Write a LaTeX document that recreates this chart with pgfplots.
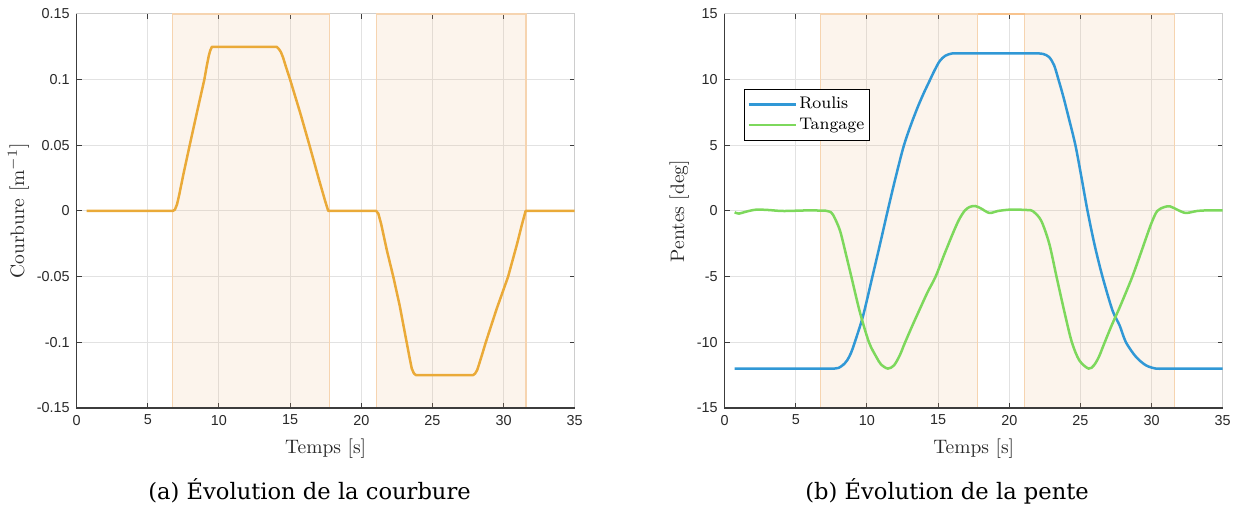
\documentclass[border=0pt]{standalone}
\usepackage{fontspec}
\usepackage{pgfplots}
\pgfplotsset{compat=1.18}
\newfontfamily\ticksf{Liberation Sans}
\newfontfamily\capfont{DejaVu Serif}
\definecolor{cOr}{RGB}{234,170,56}
\definecolor{cBl}{RGB}{48,152,214}
\definecolor{cGr}{RGB}{125,216,92}
\definecolor{rectfill}{RGB}{236,180,130}
\definecolor{rectedge}{RGB}{246,212,176}
\definecolor{axdark}{RGB}{60,60,60}
\definecolor{axlight}{RGB}{205,205,205}
\definecolor{gridc}{RGB}{226,226,226}
\definecolor{txt}{RGB}{40,40,40}
\pgfplotsset{
  mystyle/.style={
    scale only axis, width=249pt, height=197pt,
    xmin=0, xmax=35, xtick={0,5,...,35},
    grid=major, major grid style={gridc, line width=0.5pt},
    axis line style={axlight, line width=0.5pt},
    tick style={axdark, line width=0.5pt},
    major tick length=2.5pt, tick align=inside,
    ticklabel style={font=\ticksf\fontsize{7.2}{8.6}\selectfont, text=txt},
    label style={font=\fontsize{9.75}{11}\selectfont, text=txt},
    ylabel shift=-3pt,
    /pgf/number format/assume math mode=true,
    clip=false,
    xlabel={Temps [s]},
  },
  rectstyle/.style={fill=rectfill, fill opacity=0.15, draw=rectedge, line width=0.6pt, forget plot},
}
\begin{document}
\begin{tikzpicture}
\useasboundingbox (0,0) rectangle (618.5pt,253pt);
% ---------- left panel ----------
\begin{axis}[mystyle, at={(38.35pt,49pt)}, anchor=south west,
  ymin=-0.15, ymax=0.15,
  ytick={-0.15,-0.1,-0.05,0,0.05,0.1,0.15},
  yticklabels={-0.15,-0.1,-0.05,0,0.05,0.1,0.15},
  ylabel={Courbure [m$^{-1}$]}]
\addplot[rectstyle] coordinates {(6.75,-0.15) (6.75,0.15) (17.74,0.15) (17.74,-0.15) (6.75,-0.15)};
\addplot[rectstyle] coordinates {(21.06,-0.15) (21.06,0.15) (31.58,0.15) (31.58,-0.15) (21.06,-0.15)};
\addplot[cOr, line width=1.25pt, line join=round] coordinates {
(0.7,0) (6.75,0) (6.9,0.001) (7.05,0.005) (7.2,0.012) (7.5,0.028) (7.94,0.05) (8.45,0.075) (8.97,0.1) (9.15,0.111) (9.28,0.118) (9.38,0.122) (9.5,0.125)
(14.05,0.125) (14.2,0.1235) (14.35,0.121) (14.5,0.117) (14.7,0.11) (15.0,0.1) (15.7,0.075) (16.36,0.05) (17.0,0.025) (17.45,0.008) (17.68,0)
(21.05,0) (21.2,-0.002) (21.4,-0.01) (21.8,-0.03) (22.25,-0.05) (22.7,-0.072) (23.19,-0.1) (23.4,-0.112) (23.55,-0.12) (23.7,-0.1237) (23.85,-0.125)
(27.85,-0.125) (28.0,-0.1238) (28.15,-0.121) (28.3,-0.116) (28.5,-0.109) (28.75,-0.1) (29.5,-0.075) (30.32,-0.05) (30.95,-0.025) (31.3,-0.01) (31.55,0) (35,0)};
\draw[axdark, line width=0.6pt] (rel axis cs:0,1) -- (rel axis cs:0,0) -- (rel axis cs:1,0);
\end{axis}
% ---------- right panel ----------
\begin{axis}[mystyle, at={(362.35pt,49pt)}, anchor=south west,
  ymin=-15, ymax=15, ytick={-15,-10,...,15},
  ylabel={Pentes [deg]},
  legend style={at={(axis cs:1.35,9.32)}, anchor=north west, draw=black, line width=0.5pt,
    font=\normalfont\fontsize{8.4}{10}\selectfont, fill=white, inner xsep=1.5pt, inner ysep=2.8pt,
    row sep=0.6pt, nodes={inner sep=1.2pt, text=black}},
  legend cell align=left,
  legend image code/.code={\draw[#1, line width=1.25pt] (0pt,0pt) -- (23.5pt,0pt);}]
\addplot[rectstyle] coordinates {(6.75,-15) (6.75,15) (17.78,15) (17.78,-15) (6.75,-15)};
\addplot[rectstyle] coordinates {(21.08,-15) (21.08,15) (31.6,15) (31.6,-15) (21.08,-15)};
\addplot[rectedge!80!orange, line width=1pt, forget plot] coordinates {(17.78,15) (21.08,15)};
\addplot[cBl, line width=1.25pt, smooth, tension=0.5] coordinates {
(0.7,-12) (6.5,-12) (7.1,-12) (7.7,-12) (8.0,-11.95) (8.32,-11.72) (8.6,-11.38) (8.88,-10.8) (9.14,-10) (9.72,-8.0) (10.38,-5) (10.9,-2.6) (11.45,0)
(12.0,2.5) (12.57,4.9) (13.1,6.6) (13.6,8.0) (14.0,9.0) (14.35,9.8) (14.7,10.6) (15.1,11.4) (15.5,11.82) (16.0,12) (16.5,12) (17.0,12)
(21.0,12) (21.5,12) (22.0,12) (22.4,11.95) (22.8,11.72) (23.15,11.1) (23.46,10) (23.8,8.7) (24.2,7.0) (24.65,5) (25.05,2.7) (25.5,0)
(26.0,-2.6) (26.55,-5) (27.25,-7.56) (27.75,-8.7) (28.2,-10) (28.9,-11.1) (29.6,-11.75) (30.3,-12) (30.8,-12) (31.3,-12) (35,-12)};
\addlegendentry{Roulis}
\addplot[cGr, line width=1.25pt, smooth, tension=0.5] coordinates {
(0.7,-0.1) (1.0,-0.2) (1.5,-0.05) (2.2,0.1) (3,0.08) (4,0.0) (5,0.02) (6,0.05) (6.7,0.03) (7.1,0.02) (7.38,-0.05) (7.62,-0.3) (8.09,-1.45) (8.5,-3.2)
(8.9,-5) (9.5,-7.7) (10.14,-10) (10.66,-11.12) (11.0,-11.7) (11.47,-12) (11.9,-11.75) (12.3,-11.0) (12.64,-10.1) (13.2,-8.7) (13.7,-7.5) (14.25,-6.2)
(14.82,-5) (15.4,-3.4) (16.03,-1.72) (16.45,-0.7)
(16.85,0) (17.2,0.3) (17.6,0.38) (18.0,0.2) (18.6,-0.15) (19.2,0) (20.0,0.1) (20.7,0.1) (21.3,0.07) (21.64,0) (22.23,-0.71) (22.81,-2.49)
(23.32,-5) (23.9,-7.8) (24.4,-10) (24.92,-11.37) (25.57,-12) (25.95,-11.75) (26.3,-11.1) (26.67,-10.1) (27.2,-8.7) (27.72,-7.44) (28.2,-6.2)
(28.65,-5) (29.15,-3.5) (29.6,-2.1) (30.0,-0.9)
(30.4,0) (30.9,0.3) (31.3,0.35) (31.8,0.1) (32.4,-0.15) (33.2,0) (34,0.05) (35,0.05)};
\addlegendentry{Tangage}
\draw[axdark, line width=0.6pt] (rel axis cs:0,1) -- (rel axis cs:0,0) -- (rel axis cs:1,0);
\end{axis}
% ---------- captions ----------
\node[font=\capfont\fontsize{11.3}{13}\selectfont, anchor=base west, inner sep=0pt] at (74pt,3pt) {(a) Évolution de la courbure};
\node[font=\capfont\fontsize{11.3}{13}\selectfont, anchor=base west, inner sep=0pt] at (402.5pt,3pt) {(b) Évolution de la pente};
\end{tikzpicture}
\end{document}
